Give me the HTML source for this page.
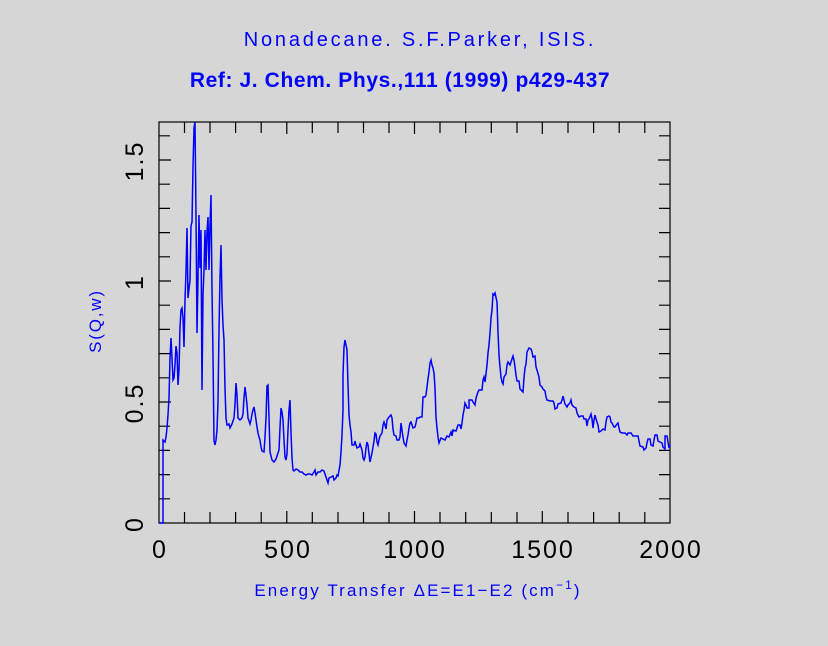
<!DOCTYPE html>
<html><head><meta charset="utf-8"><style>
html,body{margin:0;padding:0;background:#d6d6d6;}
svg{display:block;}
</style></head><body>
<svg width="828" height="646" viewBox="0 0 828 646" xmlns="http://www.w3.org/2000/svg" font-family="Liberation Sans, DejaVu Sans, sans-serif">
<rect width="828" height="646" fill="#d6d6d6"/>
<text x="420" y="46" text-anchor="middle" fill="#0000ff" font-size="20" letter-spacing="2.8">Nonadecane. S.F.Parker, ISIS.</text>
<text x="400" y="87" text-anchor="middle" fill="#0000ff" font-size="21" font-weight="bold" letter-spacing="0.6">Ref: J. Chem. Phys.,111 (1999) p429-437</text>
<g stroke="#000" stroke-width="1.2" fill="none">
<rect x="159" y="122" width="511" height="401"/>
<path d="M184.5 523v-11M210 523v-11M235.6 523v-11M261.2 523v-11M286.8 523v-12M312.3 523v-11M338 523v-11M363.5 523v-11M389 523v-11M414.5 523v-12M440 523v-11M465.7 523v-11M491.3 523v-11M517 523v-11M542.3 523v-12M568 523v-11M593.6 523v-11M619.2 523v-11M644.8 523v-11
M184.5 122v11M210 122v11M235.6 122v11M261.2 122v11M286.8 122v12M312.3 122v11M338 122v11M363.5 122v11M389 122v11M414.5 122v12M440 122v11M465.7 122v11M491.3 122v11M517 122v11M542.3 122v12M568 122v11M593.6 122v11M619.2 122v11M644.8 122v11
M159 498.8h11M159 474.6h11M159 450.4h11M159 426.2h11M159 402h12M159 377.8h11M159 353.6h11M159 329.4h11M159 305.2h11M159 281h12M159 256.8h11M159 232.6h11M159 208.4h11M159 184.2h11M159 160h12M159 135.8h11
M670 498.8h-11M670 474.6h-11M670 450.4h-11M670 426.2h-11M670 402h-12M670 377.8h-11M670 353.6h-11M670 329.4h-11M670 305.2h-11M670 281h-12M670 256.8h-11M670 232.6h-11M670 208.4h-11M670 184.2h-11M670 160h-12M670 135.8h-11"/>
</g>
<g font-size="25" fill="#000" text-anchor="middle" letter-spacing="2">
<text x="160" y="558">0</text>
<text x="288" y="558">500</text>
<text x="415" y="558">1000</text>
<text x="543" y="558">1500</text>
<text x="671" y="558">2000</text>
<text transform="translate(143,524) rotate(-90)">0</text>
<text transform="translate(143,403) rotate(-90)">0.5</text>
<text transform="translate(143,282) rotate(-90)">1</text>
<text transform="translate(143,161) rotate(-90)">1.5</text>
</g>
<text x="418" y="596" text-anchor="middle" fill="#0000ff" font-size="17" letter-spacing="2.1">Energy Transfer ΔE=E1−E2 (cm<tspan dy="-7" font-size="12">−1</tspan><tspan dy="7">)</tspan></text>
<text transform="translate(101,321) rotate(-90)" text-anchor="middle" fill="#0000ff" font-size="17" letter-spacing="1.8">S(Q,w)</text>
<polyline fill="none" stroke="#0000ff" stroke-width="1.5" points="
159,523 163,523 163,440 165,442 166,437 167,428 168,415 169,398 170,358 171,338 172,358 173,380 174,378 175,365 176,346 177,353 178,385 179,370 180,327 181,310 182,308 183,318 184,347 185,300 186,272 187,228 188,298 190,280 191,226 192,222 193,167 194,128 195,122 196,215 197,333 198,278 199,215 200,268 201,230 202,390 203,295 204,270 205,230 206,270 207,232 208,217 209,270 210,225 211,195 212,290 213,355 214,441 215,445 216,440 217,430 218,402 219,330 220,278 221,245 222,300 223,325 224,340 225,388 226,418 227,425 229,424 230,428 232,424 234,418 235,404 236,383 237,395 238,418 240,420 242,418 243,414 244,398 245,387 246,395 247,405 248,418 250,424 251,420 252,414 253,410 254,407 255,413 256,420 257,427 258,433 259,437 260,440 261,447 262,451 264,452 265,437 266,418 267,386 268,385 269,418 270,452 272,460 274,462 276,459 277,456 279,450 280,428 281,408 282,412 283,420 284,440 285,457 286,460 287,454 288,430 289,410 290,400 291,432 292,458 293,470 294,471 296,469 298,470 300,472 302,472 304,474 306,475 308,474 310,474 312,475 314,472 315,470 316,475 318,472 320,472 322,470 324,471 326,477 328,483 329,478 331,477 333,476 334,480 336,478 337,475 338,476 340,465 341,452 342,435 343,410 343,375 344,347 345,340 347,350 348,385 349,415 350,425 351,432 352,445 354,445 355,441 356,445 357,448 359,447 360,444 362,450 363,458 364,460 365,457 366,448 367,442 368,445 369,454 370,462 372,453 373,447 374,441 375,433 376,434 377,442 378,445 379,440 380,436 382,433 383,425 384,422 385,425 386,429 387,420 389,417 391,415 392,418 393,429 394,435 396,436 397,440 399,440 400,437 401,423 402,430 403,437 404,443 406,446 407,440 408,435 409,428 410,423 411,422 412,425 413,428 415,427 416,423 417,418 419,418 420,417 422,417 423,397 425,397 426,395 427,387 428,379 429,372 430,363 431,360 432,365 433,368 434,373 435,388 436,417 437,428 438,437 439,443 441,438 443,439 445,440 447,436 449,437 451,432 452,436 453,430 456,431 458,425 460,425 461,429 462,423 463,415 464,410 465,403 466,405 467,408 469,408 469,400 472,400 473,402 475,405 476,398 477,395 478,392 479,390 482,390 483,380 484,377 485,382 486,374 487,365 488,353 489,345 490,333 491,318 492,310 493,294 494,295 495,293 497,302 498,332 499,355 500,367 501,377 502,382 503,384 504,377 506,374 507,365 508,362 510,365 511,362 513,356 514,360 515,367 516,375 517,381 519,381 520,389 522,391 523,392 524,378 525,368 526,364 527,352 528,350 529,348 531,349 532,352 533,357 535,356 536,367 537,370 539,377 540,385 542,387 543,389 545,391 546,397 547,400 550,401 553,401 554,403 555,409 557,408 558,404 561,403 562,400 563,396 564,400 565,404 567,407 568,405 570,403 571,400 572,405 574,407 576,408 577,413 579,417 581,416 583,416 584,419 586,419 587,426 588,420 589,419 591,414 592,419 593,428 594,420 595,415 596,419 598,425 599,432 601,431 603,429 605,430 606,422 607,417 609,416 610,417 611,422 612,423 614,427 615,427 617,424 618,423 619,428 620,432 622,433 625,433 627,435 628,433 631,433 633,436 638,436 640,446 643,447 644,450 646,448 647,443 648,439 650,439 651,445 653,446 654,440 655,435 657,435 658,441 660,442 662,443 663,447 665,449 665,436 667,436 669,448 670,445"/>
</svg>
</body></html>
